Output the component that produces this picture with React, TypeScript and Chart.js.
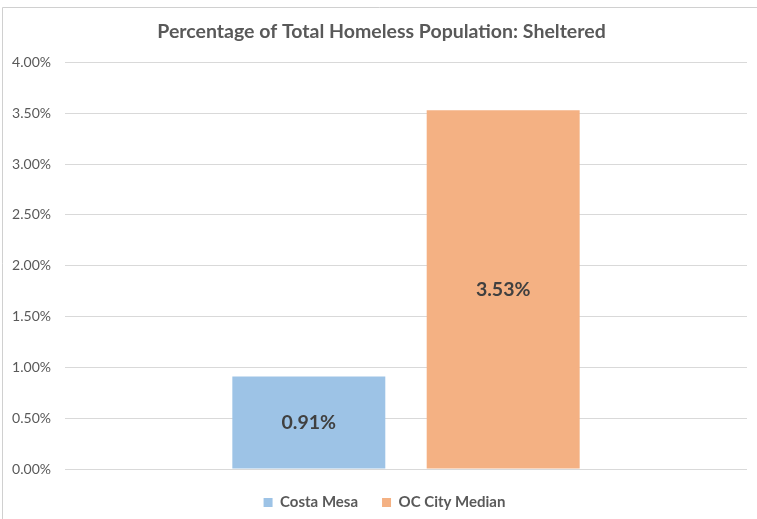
import React, { useEffect, useRef } from "react";
import { Chart, registerables } from "chart.js";

Chart.register(...registerables);

const categories = [""];
const seriesNames = ["Costa Mesa", "OC City Median"];
const costaMesa = [0.91];
const ocCityMedian = [3.53];
const seriesColors = ["#9DC3E6", "#F4B183"];
const titleText = "Percentage of Total Homeless Population: Sheltered";

const FONT = "Lato, 'Open Sans', sans-serif";

const framePlugin = {
  id: "frame",
  beforeDraw(chart: any) {
    const { ctx, width, height } = chart;
    ctx.save();
    ctx.fillStyle = "#ffffff";
    ctx.fillRect(0, 0, width, height);
    ctx.strokeStyle = "#d0d0d0";
    ctx.lineWidth = 1;
    ctx.beginPath();
    ctx.moveTo(2.5, height);
    ctx.lineTo(2.5, 7.5);
    ctx.lineTo(width, 7.5);
    ctx.stroke();
    ctx.restore();
  },
};

const boxNudge = {
  id: "boxNudge",
  afterLayout(chart: any) {
    const lg = chart.legend;
    if (lg) {
      lg.top -= 6;
      lg.bottom -= 6;
      lg.left += 11;
      lg.right += 11;
    }
    const t = chart.titleBlock;
    if (t) {
      t.left += 8;
      t.right += 8;
    }
  },
};

const labelPlugin = {
  id: "barLabels",
  afterDatasetsDraw(chart: any) {
    const { ctx } = chart;
    ctx.save();
    ctx.font = `bold 19.5px ${FONT}`;
    ctx.fillStyle = "#404040";
    ctx.textAlign = "center";
    ctx.textBaseline = "middle";
    chart.data.datasets.forEach((ds: any, i: number) => {
      const meta = chart.getDatasetMeta(i);
      meta.data.forEach((el: any, j: number) => {
        const v = ds.data[j];
        const y = (el.y + el.base) / 2;
        ctx.fillText(v.toFixed(2) + "%", el.x, y);
      });
    });
    ctx.restore();
  },
};

export default function App() {
  const ref = useRef<HTMLCanvasElement>(null);
  useEffect(() => {
    if (!ref.current) return;
    const chart = new Chart(ref.current, {
      type: "bar",
      data: {
        labels: categories,
        datasets: [
          {
            label: seriesNames[0],
            data: costaMesa,
            backgroundColor: seriesColors[0],
            categoryPercentage: 0.57,
            barPercentage: 0.787,
          },
          {
            label: seriesNames[1],
            data: ocCityMedian,
            backgroundColor: seriesColors[1],
            categoryPercentage: 0.57,
            barPercentage: 0.787,
          },
        ],
      },
      options: {
        animation: false,
        responsive: false,
        maintainAspectRatio: false,
        layout: { padding: { left: 0, right: 10, top: 0, bottom: -7 } },
        plugins: {
          tooltip: { enabled: false },
          title: {
            display: true,
            text: titleText,
            color: "#595959",
            font: { family: FONT, size: 19.5, weight: "bold" },
            padding: { top: 20, bottom: 19 },
          },
          legend: {
            position: "bottom",
            labels: {
              color: "#595959",
              font: { family: FONT, size: 15, weight: "bold" },
              boxWidth: 9,
              boxHeight: 9,
              padding: 24,
            },
          },
        },
        scales: {
          x: {
            grid: { display: false },
            border: { display: false },
            ticks: { display: false },
          },
          y: {
            min: 0,
            max: 4,
            ticks: {
              stepSize: 0.5,
              color: "#595959",
              font: { family: FONT, size: 14 },
              padding: 14,
              callback: (v: any) => Number(v).toFixed(2) + "%",
            },
            grid: { color: "#d9d9d9", drawTicks: false },
            border: { display: false },
            afterFit: (s: any) => {
              s.width = 65;
            },
          },
        },
      },
      plugins: [framePlugin, boxNudge, labelPlugin],
    });
    return () => chart.destroy();
  }, []);
  return (
    <div style={{ position: "absolute", left: 0, top: 0, width: 757, height: 519 }}>
      <canvas ref={ref} width={757} height={519} style={{ display: "block" }} />
    </div>
  );
}
